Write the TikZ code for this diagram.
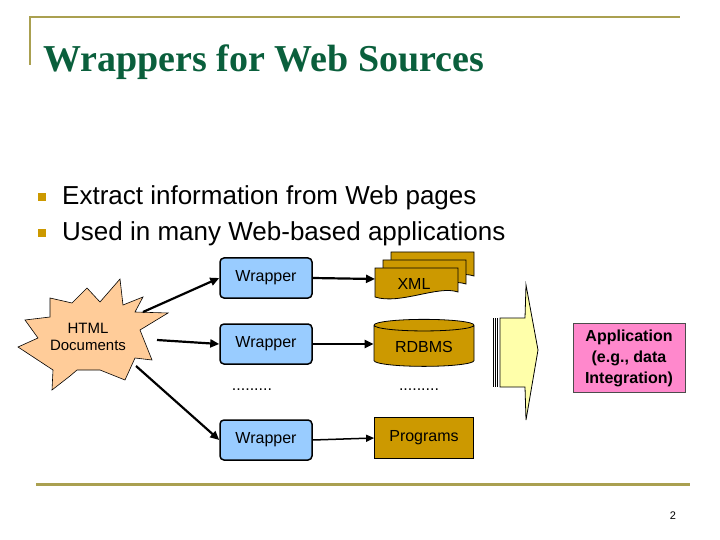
\documentclass[tikz,border=0pt]{standalone}
\usepackage{fontspec}
\setmainfont{Liberation Sans}
\newfontfamily\titlefont{Liberation Serif}
\usetikzlibrary{arrows.meta,shapes.geometric}
\definecolor{gold}{RGB}{204,153,0}
\definecolor{olive}{RGB}{170,160,80}
\definecolor{tgreen}{RGB}{10,95,60}
\definecolor{wblue}{RGB}{153,204,255}
\definecolor{burst}{RGB}{255,204,153}
\definecolor{apink}{RGB}{255,136,204}
\definecolor{ayellow}{RGB}{255,255,170}
\begin{document}
\begin{tikzpicture}[x=1bp,y=-1bp,
  wrap/.style={draw=black,line width=1.5bp,fill=wblue,rounded corners=4bp,minimum width=92bp,minimum height=40bp,font=\fontsize{16bp}{18bp}\selectfont,inner sep=0pt},
  gbox/.style={draw=black,line width=0.8bp,fill=gold,font=\fontsize{16bp}{18bp}\selectfont},
  arr/.style={line width=2.2bp,-{Triangle[length=9bp,width=8bp]}},
  lab/.style={font=\fontsize{16bp}{18bp}\selectfont}]
\useasboundingbox (0,0) rectangle (720,540);
% frame lines
\draw[olive,line width=1.5bp] (30,65) -- (30,17) -- (680,17);
\draw[olive,line width=3bp] (36,484) -- (690,484);
\node[anchor=base west,text=tgreen,font=\titlefont\bfseries\fontsize{38bp}{40bp}\selectfont,inner sep=0pt] (title) at (43,72) {Wrappers for Web Sources};
% bullets
\fill[gold] (38,193) rectangle (46,201);
\fill[gold] (38,229) rectangle (46,237);
\node[anchor=base west,inner sep=0pt,font=\fontsize{26bp}{28bp}\selectfont] (b1) at (62,205) {Extract information from Web pages};
\node[anchor=base west,inner sep=0pt,font=\fontsize{26bp}{28bp}\selectfont] (b2) at (62,241) {Used in many Web-based applications};
% burst
\draw[fill=burst,line width=0.6bp] (120,279) -- (123,305) -- (143,297) -- (135,312) -- (168,313) -- (140,330) -- (152,360) -- (135,358) -- (125,380) -- (100,370) -- (77,370) -- (70,376) -- (52,390) -- (53,370) -- (18,347) -- (38,338) -- (25,320) -- (50,317) -- (50,298) -- (72,303) -- (87,288) -- (100,302) -- cycle;
\coordinate (bA) at (143,312);
\coordinate (bB) at (157,340);
\coordinate (bC) at (136,366);
\node[lab,align=center,inner sep=0pt,font=\fontsize{15bp}{17bp}\selectfont] (html) at (88,337) {HTML\\Documents};
% wrappers
\node[wrap] (w1) at (266,278) {\raisebox{5bp}{Wrapper}};
\node[wrap] (w2) at (266,344) {\raisebox{5bp}{Wrapper}};
\node[wrap] (w3) at (266,440) {Wrapper};
\node[lab] (d1) at (252,390) {.........};
\node[lab] (d2) at (419,390) {.........};
% XML pages
\foreach \o in {16,8}{
  \draw[fill=gold,line width=0.8bp] (375+\o,268-\o) -- (458+\o,268-\o) -- (458+\o,292-\o) .. controls (438+\o,285-\o) and (400+\o,305-\o) .. (375+\o,297-\o) -- cycle;}
\draw[fill=gold,line width=0.8bp] (375,268) -- (458,268) -- (458,292) .. controls (438,285) and (400,305) .. (375,297) -- cycle;
\node[lab,inner sep=0pt] (xml) at (414,284) {XML};
\coordinate (xmlW) at (375,279);
% RDBMS cylinder
\node[cylinder,shape border rotate=90,aspect=0.18,draw=black,line width=0.8bp,fill=gold,minimum width=100bp,minimum height=47bp,lab] (db) at (424,347) {\raisebox{-8bp}{RDBMS}};
\node[gbox,minimum width=99bp,minimum height=41bp] (prog) at (424,438) {\raisebox{4bp}{Programs}};
% connectors
\draw[arr] (bA) -- (w1.west);
\draw[arr] (bB) -- (w2.west);
\draw[arr] (bC) -- (w3.west);
\draw[arr] (w1.east) -- (xmlW);
\draw[arr] (w2.east) -- (db.west |- w2.east);
\draw[line width=1.5bp,-{Triangle[length=8bp,width=7bp]}] (w3.east) -- (prog.west);
% big arrow
\draw[line width=0.6bp] (493,318) -- (493,387) (495,318) -- (495,387) (497,318) -- (497,387);
\draw[fill=ayellow,line width=0.8bp] (500,318) -- (525,318) -- (526,285) -- (538,350) -- (526,420) -- (525,387) -- (500,387) -- cycle;
\node[draw=black!70,line width=0.8bp,fill=apink,minimum width=112bp,minimum height=69bp,align=center,inner sep=0pt,font=\bfseries\fontsize{16bp}{21bp}\selectfont] (app) at (629,358) {Application\\(e.g., data\\Integration)};
\node[font=\fontsize{11bp}{12bp}\selectfont] (pg) at (673,516) {2};
\end{tikzpicture}
\end{document}
